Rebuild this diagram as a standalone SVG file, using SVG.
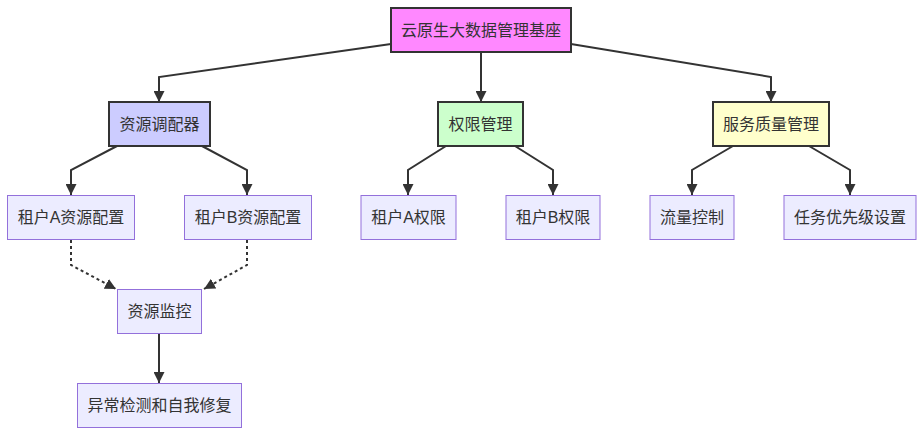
<svg xmlns="http://www.w3.org/2000/svg" width="924" height="436" viewBox="0 0 924 436">
<defs>
<marker id="arrow" viewBox="0 0 10 10" refX="10" refY="5" markerUnits="userSpaceOnUse" markerWidth="11" markerHeight="11" orient="auto">
<path d="M0,0 L10,5 L0,10 z" fill="#333"/>
</marker>
</defs>
<style>
text{font-family:"Liberation Sans","Noto Sans CJK SC",sans-serif;font-size:16px;fill:#333;text-anchor:middle;dominant-baseline:central}
.main{stroke:#333;stroke-width:2}
.leaf{fill:#ECECFF;stroke:#9370DB;stroke-width:1}
.edge{fill:none;stroke:#333;stroke-width:2;marker-end:url(#arrow)}
.dot{stroke-dasharray:3 3}
</style>
<rect width="924" height="436" fill="#fff"/>
<g id="edges">
<path class="edge" d="M391,44 L159,77 L159,102"/>
<path class="edge" d="M481,52 L481,102"/>
<path class="edge" d="M571,44 L771,77 L771,102"/>
<path class="edge" d="M117,146 L71,170 L71,195"/>
<path class="edge" d="M202,146 L247,170 L247,195"/>
<path class="edge" d="M446,146 L408,170 L408,195"/>
<path class="edge" d="M515,146 L553,170 L553,195"/>
<path class="edge" d="M733,146 L692,170 L692,195"/>
<path class="edge" d="M809,146 L850,170 L850,195"/>
<path class="edge dot" d="M71,240 L71,265 L116,289"/>
<path class="edge dot" d="M247,240 L247,265 L204,289"/>
<path class="edge" d="M159,333 L159,383"/>
</g>
<g id="root"><rect class="main" x="391" y="8" width="180" height="44" fill="#ff88ff"/><text x="481" y="30">云原生大数据管理基座</text></g>
<g id="scheduler"><rect class="main" x="109" y="102" width="101" height="44" fill="#ccccff"/><text x="159.5" y="124">资源调配器</text></g>
<g id="auth"><rect class="main" x="438" y="102" width="85" height="44" fill="#ccffcc"/><text x="480.5" y="124">权限管理</text></g>
<g id="qos"><rect class="main" x="713" y="102" width="116" height="44" fill="#ffffcc"/><text x="771" y="124">服务质量管理</text></g>
<g id="resA"><rect class="leaf" x="7.5" y="195.5" width="127" height="44"/><text x="71" y="217.5">租户A资源配置</text></g>
<g id="resB"><rect class="leaf" x="184.5" y="195.5" width="127" height="44"/><text x="248" y="217.5">租户B资源配置</text></g>
<g id="authA"><rect class="leaf" x="361" y="195.5" width="95" height="44"/><text x="408.5" y="217.5">租户A权限</text></g>
<g id="authB"><rect class="leaf" x="506" y="195.5" width="94" height="44"/><text x="553" y="217.5">租户B权限</text></g>
<g id="flow"><rect class="leaf" x="650" y="195.5" width="84" height="44"/><text x="692" y="217.5">流量控制</text></g>
<g id="prio"><rect class="leaf" x="784" y="195.5" width="132" height="44"/><text x="850" y="217.5">任务优先级设置</text></g>
<g id="monitor"><rect class="leaf" x="117.5" y="289.5" width="84" height="44"/><text x="159.5" y="311.5">资源监控</text></g>
<g id="heal"><rect class="leaf" x="77.5" y="383.5" width="164" height="44"/><text x="159.5" y="405.5">异常检测和自我修复</text></g>
</svg>
